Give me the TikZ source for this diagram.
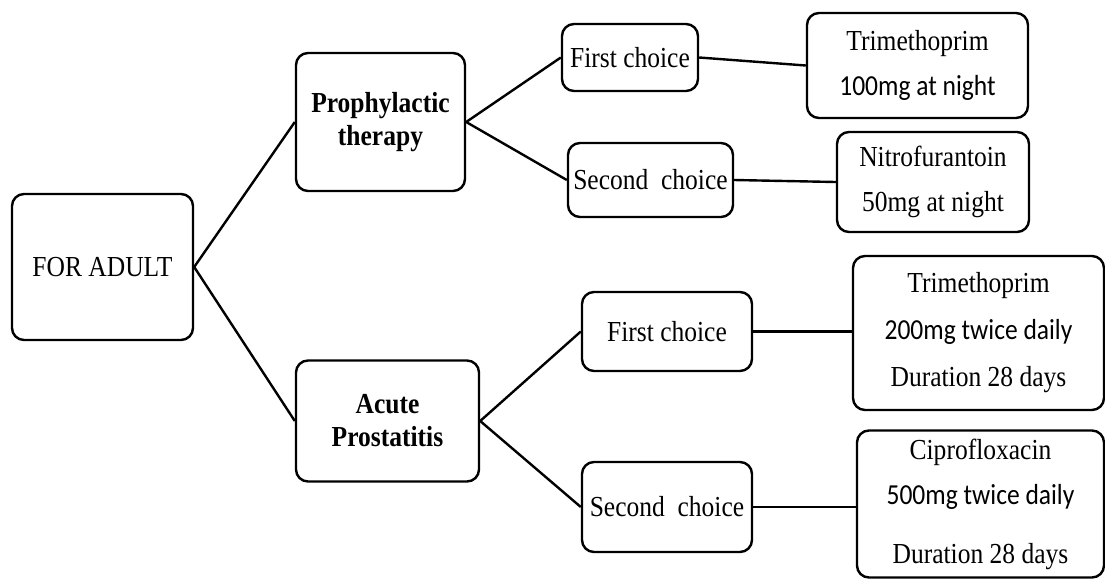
\documentclass[tikz,border=0pt]{standalone}
\usepackage{fontspec}
\setmainfont{Liberation Serif}[FakeStretch=0.88]
\newfontfamily\calfont{Carlito}[FakeStretch=0.88]
\usepackage{tikz}
\usetikzlibrary{positioning, calc}

\begin{document}
\begin{tikzpicture}[
  x=0.5pt, y=-0.5pt,
  box/.style={
    draw, rounded corners=6pt, line width=1.2pt,
    inner sep=0pt, align=center,
    font=\fontsize{14.5}{16.5}\selectfont
  },
  rootbox/.style={box},
  groupbox/.style={box, font=\fontsize{14.5}{16.5}\selectfont\bfseries},
  choicebox/.style={box},
  drugbox/.style={box, font=\fontsize{14.5}{22.5}\selectfont},
  link/.style={line width=1.2pt},
]

%%% Frame of the page
\useasboundingbox (0,0) rectangle (1105,580);

%%% Root
\node[rootbox, minimum width=90.5pt, minimum height=73pt] (adult) at (102.5,267)
  {FOR ADULT};

%%% Groups
\node[groupbox, minimum width=84.5pt, minimum height=69pt] (proph) at (380.5,122)
  {Prophylactic\\therapy};
\node[groupbox, minimum width=91.5pt, minimum height=60.5pt] (acute) at (387.5,421)
  {Acute\\Prostatitis};

%%% Choices
\node[choicebox, minimum width=68pt, minimum height=33.5pt] (first1) at (630,57.5)
  {First choice};
\node[choicebox, minimum width=82.5pt, minimum height=37pt] (second1) at (650.5,180)
  {Second\ \ choice};
\node[choicebox, minimum width=85pt, minimum height=39.5pt] (first2) at (667,331.5)
  {First choice};
\node[choicebox, minimum width=85pt, minimum height=45pt] (second2) at (667,507)
  {Second\ \ choice};

%%% Drugs
\node[drugbox, minimum width=110.5pt, minimum height=52.5pt] (trim1) at (917.5,65.5)
  {Trimethoprim\\{\calfont 100mg at night}};
\node[drugbox, minimum width=96pt, minimum height=50pt] (nitro) at (933,182)
  {Nitrofurantoin\\50mg at night};
\node[drugbox, minimum width=125.5pt, minimum height=77pt] (trim2) at (978.5,333)
  {Trimethoprim\\[1pt]{\calfont 200mg twice daily}\\[1pt]Duration 28 days};
\node[drugbox, minimum width=123.5pt, minimum height=73.5pt] (cipro) at (980.5,504)
  {Ciprofloxacin\\{\calfont 500mg twice daily}\\[7pt]Duration 28 days};

%%% Connectors
\draw[link] (adult.east) -- (proph.west);
\draw[link] (adult.east) -- (acute.west);
\draw[link] (proph.east) -- (first1.west);
\draw[link] (proph.east) -- (second1.west);
\draw[link] (acute.east) -- (first2.west);
\draw[link] (acute.east) -- (second2.west);
\draw[link] (first1.east) -- (trim1.west);
\draw[link] (second1.east) -- (nitro.west);
\draw[link] (first2.east) -- (first2.east -| trim2.west);
\draw[link] (second2.east) -- (second2.east -| cipro.west);

\end{tikzpicture}
\end{document}
